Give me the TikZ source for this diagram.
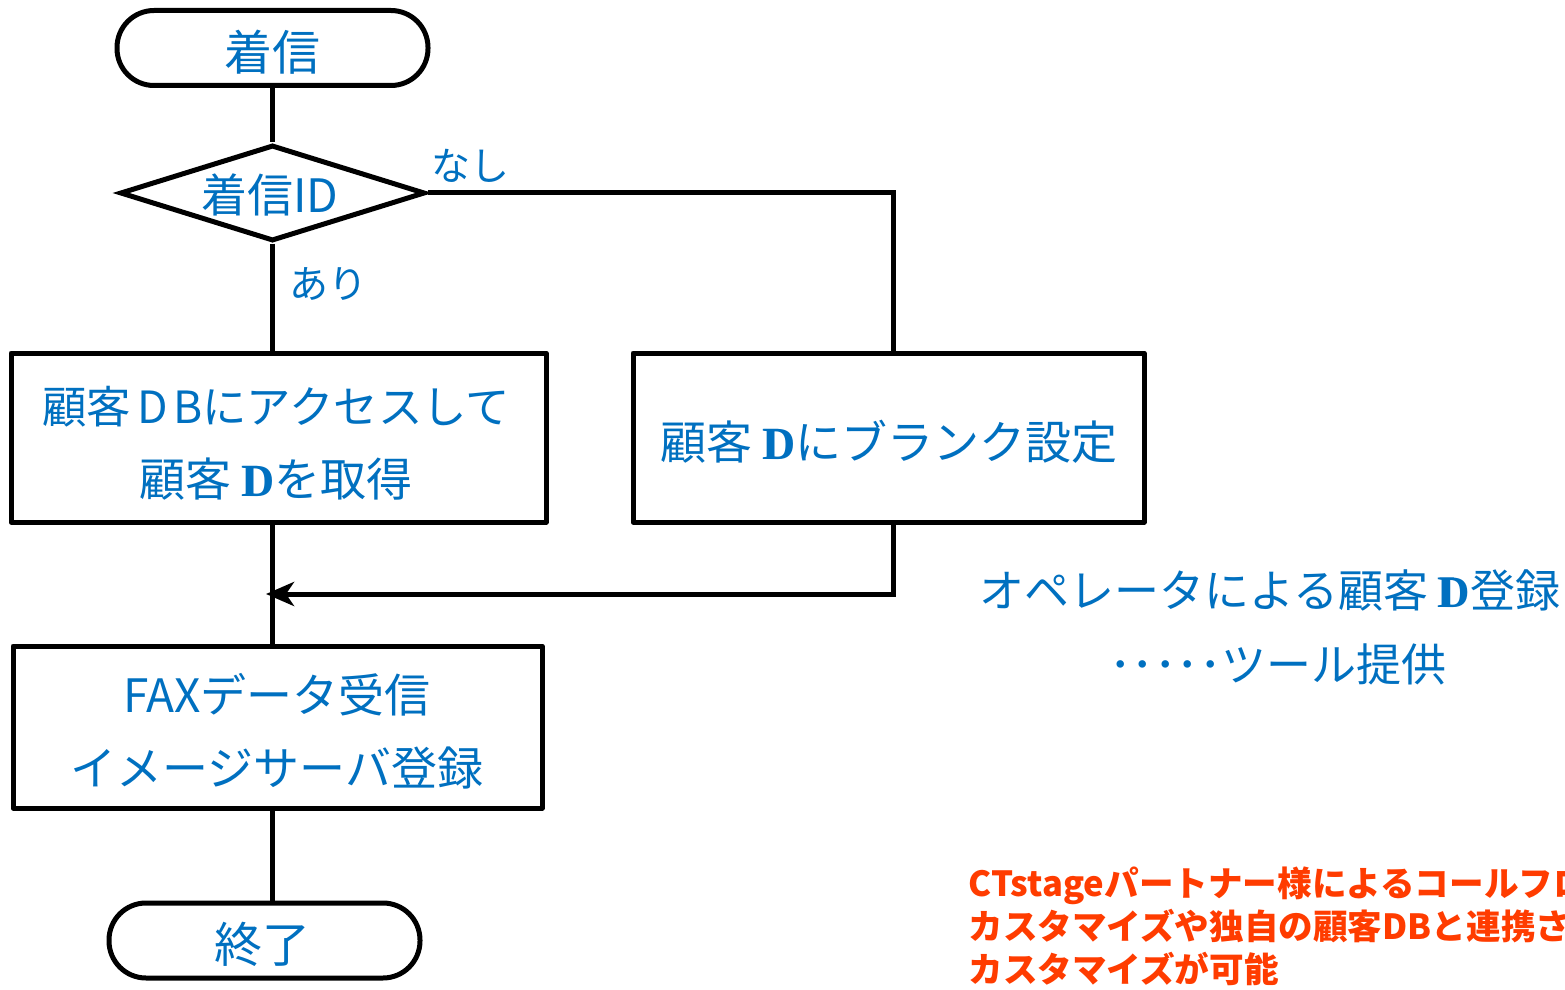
\documentclass[tikz,border=0pt]{standalone}
\usepackage{fontspec}
\setmainfont{Noto Sans CJK JP}
\newfontfamily\idfont{Liberation Serif}
\usetikzlibrary{shapes.geometric,arrows.meta}
\definecolor{tblue}{RGB}{0,112,192}
\definecolor{tred}{RGB}{255,60,0}
\newcommand{\IDg}{{\idfont\bfseries I\kern-0.40em D}}
\begin{document}
\begin{tikzpicture}[x=0.5pt,y=-0.5pt,
  conn/.style={line width=2.5pt, black},
  term/.style={draw, line width=2.5pt, rounded corners=18.5pt, minimum width=155.5pt, minimum height=37.5pt, inner sep=0pt},
  proc/.style={draw, line width=2.5pt, line join=round, inner sep=0pt},
  dec/.style={draw, diamond, aspect=3.18, minimum width=152.5pt, minimum height=48pt, inner sep=0pt, line width=2.5pt},
  txt/.style={text=tblue, font=\fontsize{23}{36.5}\selectfont, align=center, inner sep=0pt},
  lbl/.style={text=tblue, font=\fontsize{19.5}{24}\selectfont, inner sep=0pt},
  note/.style={text=tblue, font=\fontsize{22.5}{37.5}\selectfont, align=center, inner sep=0pt},
  red/.style={text=tred, font=\fontsize{17.3}{21.5}\selectfont\bfseries, align=left, inner sep=0pt, anchor=west}
]
\useasboundingbox (0,0) rectangle (1565,990);
\clip (0,0) rectangle (1565,990);
\fill[white] (0,0) rectangle (1565,990);

% shapes
\node[term] (start) at (272.5,48) {};
\node[txt, font=\fontsize{24}{30}\selectfont] (tstart) at (272,52) {着信};
\node[dec] (dec) at (272.5,193) {};
\node[txt] (tdec) at (270,195) {着信ID};
\node[proc, minimum width=267.5pt, minimum height=84.5pt] (b1) at (278.5,437.5) {};
\node[txt] (tb1) at (276,443) {{\fontsize{22.2}{36.5}\selectfont 顧客\hspace{0.15em}D\hspace{0.12em}Bにアクセスして}\\顧客 \IDg を取得};
\node[proc, minimum width=255.5pt, minimum height=84.5pt] (b2) at (888.5,437.5) {};
\node[txt] (tb2) at (889,442) {顧客 \IDg にブランク設定};
\node[proc, minimum width=264.5pt, minimum height=81pt] (b3) at (277.5,727) {};
\node[txt] (tb3) at (277,731) {FAXデータ受信\\イメージサーバ登録};
\node[term] (end) at (264.5,940.5) {};
\node[txt, font=\fontsize{24}{30}\selectfont] (tend) at (262,944) {終了};

% labels
\node[lbl] (nasi) at (470,166) {なし};
\node[lbl] (ari) at (328,284) {あり};

% connectors
\coordinate (jr) at (893,195);
\coordinate (m) at (272,594);
\coordinate (mr) at (893,594);
\draw[conn] (start.south -| m) -- (dec.north -| m);
\draw[conn] (dec.south -| m) -- (b1.north -| m);
\draw[conn] (dec.east) -- (dec.east -| jr) -- (jr |- b2.north);
\draw[conn] (b1.south -| m) -- (b3.north -| m);
\draw[conn] (b3.south -| m) -- (end.north -| m);
\draw[conn, -{Stealth[length=14pt,width=12pt,inset=4pt]}] (b2.south -| mr) -- (mr) -- ([xshift=-3]m);

% annotations
\node[note] (n1) at (1270,590) {オペレータによる顧客 \IDg 登録};
\node[note] (n2) at (1278,664) {･････ツール提供};
\node[red] (r1) at (968,926) {CTstageパートナー様によるコールフロ\\カスタマイズや独自の顧客DBと連携さ\\カスタマイズが可能};
\end{tikzpicture}
\end{document}
